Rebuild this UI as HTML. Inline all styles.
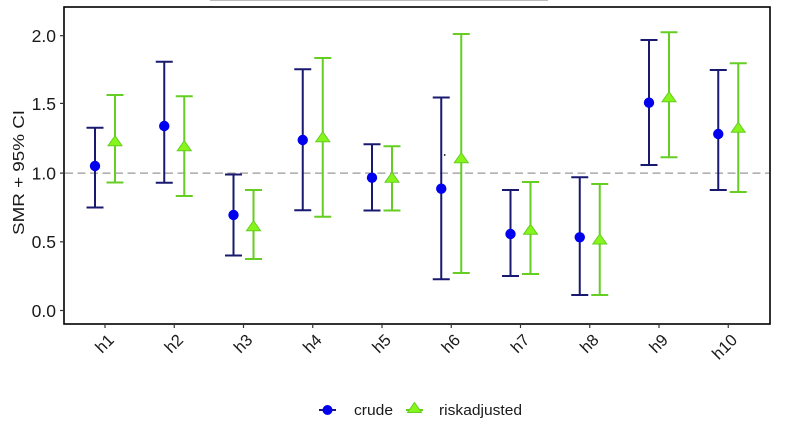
<!DOCTYPE html>
<html><head><meta charset="utf-8"><style>
html,body{margin:0;padding:0;background:#fff;}
svg{display:block;font-family:"Liberation Sans",Arial,sans-serif;}
</style></head><body>
<svg width="800" height="430" viewBox="0 0 800 430" xmlns="http://www.w3.org/2000/svg">
<rect width="800" height="430" fill="#fff"/>
<line x1="210" y1="0.5" x2="548" y2="0.5" stroke="#bbb" stroke-width="1"/>
<!-- panel -->
<rect x="64" y="7" width="706" height="317" fill="#fff" stroke="#000" stroke-width="1.6"/>
<!-- ref line at 1.0 -->
<line x1="65" y1="173.1" x2="769" y2="173.1" stroke="#999" stroke-width="1.3" stroke-dasharray="8,4.5"/>
<!-- y ticks -->
<g stroke="#333" stroke-width="1.2">
<line x1="60" y1="35.7" x2="64" y2="35.7"/>
<line x1="60" y1="103.4" x2="64" y2="103.4"/>
<line x1="60" y1="173.1" x2="64" y2="173.1"/>
<line x1="60" y1="241.8" x2="64" y2="241.8"/>
<line x1="60" y1="310.5" x2="64" y2="310.5"/>
</g>
<g font-size="17.5" fill="#1a1a1a" text-anchor="end">
<text x="56" y="42">2.0</text>
<text x="56" y="110">1.5</text>
<text x="56" y="179.5">1.0</text>
<text x="56" y="248">0.5</text>
<text x="56" y="317">0.0</text>
</g>
<text transform="translate(24,172.5) rotate(-90)" font-size="16" text-anchor="middle" fill="#1a1a1a" textLength="125" lengthAdjust="spacingAndGlyphs">SMR + 95% CI</text>
<!-- x ticks -->
<g stroke="#333" stroke-width="1.2">
<line x1="105" y1="324" x2="105" y2="328"/>
<line x1="174.25" y1="324" x2="174.25" y2="328"/>
<line x1="243.5" y1="324" x2="243.5" y2="328"/>
<line x1="312.75" y1="324" x2="312.75" y2="328"/>
<line x1="382" y1="324" x2="382" y2="328"/>
<line x1="451.25" y1="324" x2="451.25" y2="328"/>
<line x1="520.5" y1="324" x2="520.5" y2="328"/>
<line x1="589.75" y1="324" x2="589.75" y2="328"/>
<line x1="659" y1="324" x2="659" y2="328"/>
<line x1="728.25" y1="324" x2="728.25" y2="328"/>
</g>
<g font-size="16.5" fill="#1a1a1a" text-anchor="end">
<text transform="translate(115,341) rotate(-45)">h1</text>
<text transform="translate(184.25,341) rotate(-45)">h2</text>
<text transform="translate(253.5,341) rotate(-45)">h3</text>
<text transform="translate(322.75,341) rotate(-45)">h4</text>
<text transform="translate(392,341) rotate(-45)">h5</text>
<text transform="translate(461.25,341) rotate(-45)">h6</text>
<text transform="translate(530.5,341) rotate(-45)">h7</text>
<text transform="translate(599.75,341) rotate(-45)">h8</text>
<text transform="translate(669,341) rotate(-45)">h9</text>
<text transform="translate(738.25,341) rotate(-45)">h10</text>
</g>
<!-- crude error bars -->
<g stroke="#191970" stroke-width="2" fill="none">
<path d="M95 127.8V207.5M86.5 127.8H103.5M86.5 207.5H103.5"/>
<path d="M164.25 61.8V182.7M155.75 61.8H172.75M155.75 182.7H172.75"/>
<path d="M233.5 174.5V255.5M225 174.5H242M225 255.5H242"/>
<path d="M302.75 69.2V210.2M294.25 69.2H311.25M294.25 210.2H311.25"/>
<path d="M372 144.3V210.5M363.5 144.3H380.5M363.5 210.5H380.5"/>
<path d="M441.25 97.5V279.3M432.75 97.5H449.75M432.75 279.3H449.75"/>
<path d="M510.5 190V276M502 190H519M502 276H519"/>
<path d="M579.75 177.3V295M571.25 177.3H588.25M571.25 295H588.25"/>
<path d="M649 40V165M640.5 40H657.5M640.5 165H657.5"/>
<path d="M718.25 70V190M709.75 70H726.75M709.75 190H726.75"/>
</g>
<!-- adjusted error bars -->
<g stroke="#66cd22" stroke-width="2" fill="none">
<path d="M115 95V182.5M106.5 95H123.5M106.5 182.5H123.5"/>
<path d="M184.25 96.3V196M175.75 96.3H192.75M175.75 196H192.75"/>
<path d="M253.5 190V259M245 190H262M245 259H262"/>
<path d="M322.75 58V216.7M314.25 58H331.25M314.25 216.7H331.25"/>
<path d="M392 146.3V210.5M383.5 146.3H400.5M383.5 210.5H400.5"/>
<path d="M461.25 34V273M452.75 34H469.75M452.75 273H469.75"/>
<path d="M530.5 182V274M522 182H539M522 274H539"/>
<path d="M599.75 184V295M591.25 184H608.25M591.25 295H608.25"/>
<path d="M669 32.3V157.3M660.5 32.3H677.5M660.5 157.3H677.5"/>
<path d="M738.25 63.3V192M729.75 63.3H746.75M729.75 192H746.75"/>
</g>
<!-- crude points -->
<g fill="#0000ee">
<circle cx="95" cy="166" r="5.2"/>
<circle cx="164.25" cy="126" r="5.2"/>
<circle cx="233.5" cy="215" r="5.2"/>
<circle cx="302.75" cy="140" r="5.2"/>
<circle cx="372" cy="177.7" r="5.2"/>
<circle cx="441.25" cy="188.7" r="5.2"/>
<circle cx="510.5" cy="234" r="5.2"/>
<circle cx="579.75" cy="237.3" r="5.2"/>
<circle cx="649" cy="102.7" r="5.2"/>
<circle cx="718.25" cy="134" r="5.2"/>
</g>
<!-- adjusted triangles -->
<g fill="#86f51c" stroke="#66cd22" stroke-width="1">
<path d="M115 135.7l7 10h-14z"/>
<path d="M184.25 140.7l7 10h-14z"/>
<path d="M253.5 220.7l7 10h-14z"/>
<path d="M322.75 131.7l7 10h-14z"/>
<path d="M392 172.3l7 10h-14z"/>
<path d="M461.25 152.7l7 10h-14z"/>
<path d="M530.5 224.3l7 10h-14z"/>
<path d="M599.75 234l7 10h-14z"/>
<path d="M669 91.7l7 10h-14z"/>
<path d="M738.25 122.3l7 10h-14z"/>
</g>
<circle cx="444.7" cy="155" r="0.9" fill="#000"/>
<!-- legend -->
<line x1="319" y1="410" x2="336" y2="410" stroke="#191970" stroke-width="2"/>
<circle cx="327.5" cy="410" r="5" fill="#0000ee"/>
<text x="354" y="415" font-size="15" fill="#1a1a1a" textLength="39" lengthAdjust="spacingAndGlyphs">crude</text>
<line x1="406" y1="410" x2="423" y2="410" stroke="#66cd22" stroke-width="2"/>
<path d="M414.5 402.5l7 10h-14z" fill="#86f51c" stroke="#66cd22" stroke-width="1"/>
<text x="439" y="415" font-size="15" fill="#1a1a1a" textLength="83" lengthAdjust="spacingAndGlyphs">riskadjusted</text>
</svg>
</body></html>
